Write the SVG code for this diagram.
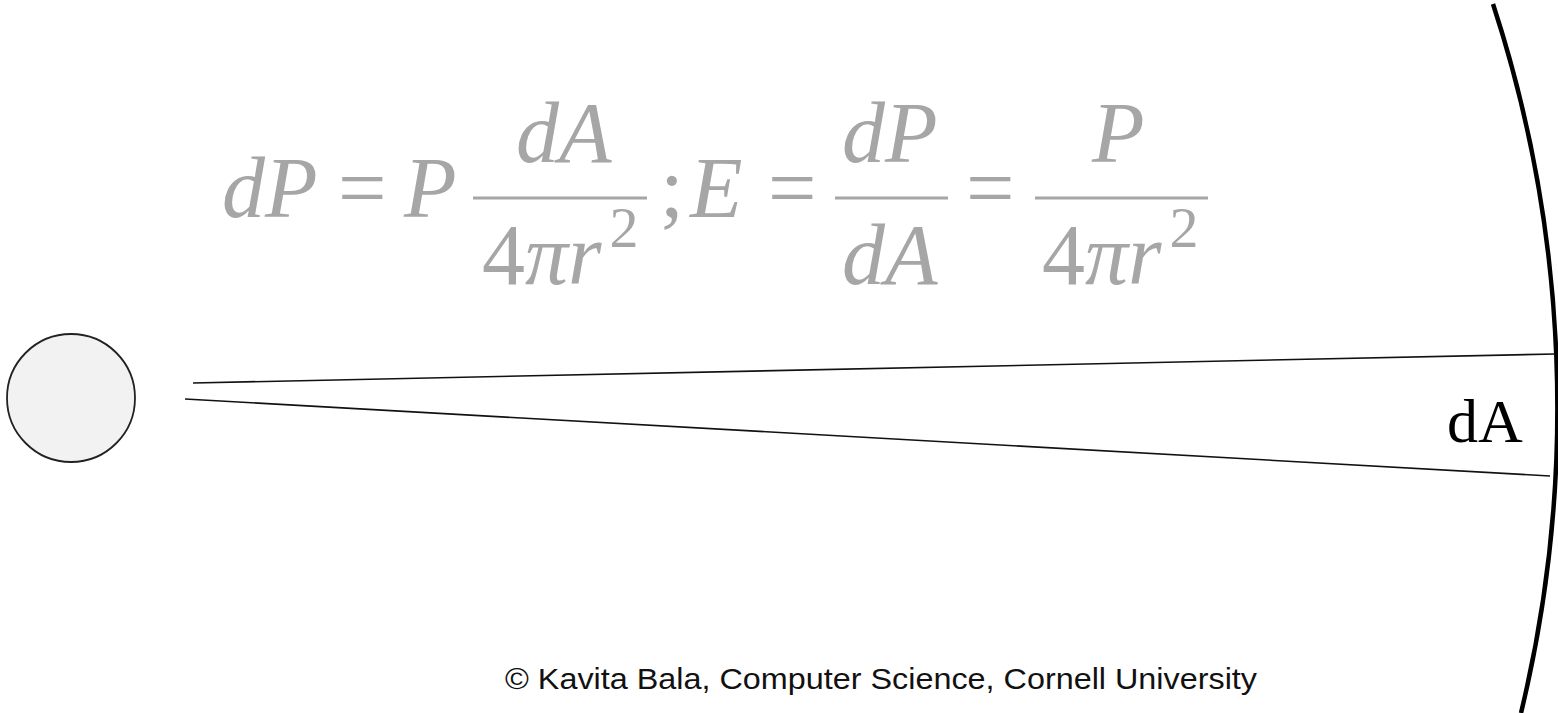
<svg xmlns="http://www.w3.org/2000/svg" width="1558" height="713" viewBox="0 0 1558 713">
<style>
.f{font-family:"Liberation Serif","Times New Roman",serif;fill:#a6a6a6;font-size:86px}
.i{font-style:italic}
.sup{font-size:58px;font-style:normal}
.bar{stroke:#a6a6a6;stroke-width:3}
.ln{stroke:#111;stroke-width:1.6;fill:none}
</style>
<rect width="1558" height="713" fill="#fff"/>
<g id="formula">
<text class="f i" x="222" y="217">dP</text>
<text class="f" x="338" y="217">=</text>
<text class="f i" x="404" y="217">P</text>
<text class="f i" x="516" y="162">dA</text>
<line class="bar" x1="473" y1="198" x2="647" y2="198"/>
<text class="f" x="482" y="284">4<tspan class="i">πr</tspan><tspan class="sup" dx="8" dy="-37">2</tspan></text>
<text class="f" x="660" y="217">;</text>
<text class="f i" x="690" y="217">E</text>
<text class="f" x="768" y="217">=</text>
<text class="f i" x="842" y="162">dP</text>
<line class="bar" x1="835" y1="198" x2="948" y2="198"/>
<text class="f i" x="842" y="284">dA</text>
<text class="f" x="966" y="217">=</text>
<text class="f i" x="1092" y="162">P</text>
<line class="bar" x1="1035" y1="198" x2="1208" y2="198"/>
<text class="f" x="1042" y="284">4<tspan class="i">πr</tspan><tspan class="sup" dx="8" dy="-37">2</tspan></text>
</g>
<g id="source">
<circle cx="71" cy="398" r="64" fill="#f2f2f2" stroke="#222" stroke-width="1.8"/>
</g>
<g id="surface">
<path d="M1493,4 A1299,1299 0 0 1 1521,713" fill="none" stroke="#000" stroke-width="4.5"/>
<text x="1447" y="442" font-family="'Liberation Serif','Times New Roman',serif" font-size="62" fill="#000">dA</text>
</g>
<g id="connectors">
<line class="ln" x1="193" y1="383" x2="1555" y2="354"/>
<line class="ln" x1="185" y1="399" x2="1550" y2="476"/>
</g>
<text x="505" y="689" font-family="'Liberation Sans',Arial,sans-serif" font-size="29" fill="#111" textLength="752" lengthAdjust="spacingAndGlyphs">© Kavita Bala, Computer Science, Cornell University</text>
</svg>
